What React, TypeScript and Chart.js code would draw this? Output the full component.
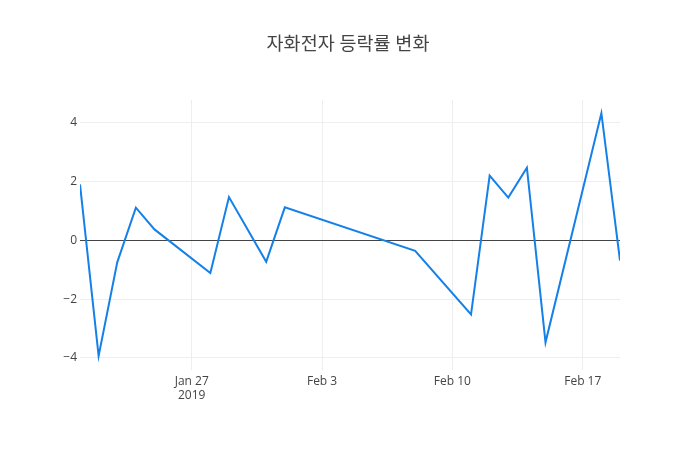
import React, { useEffect, useRef } from "react";
import { Chart, registerables } from "chart.js";

Chart.register(...registerables);

const TITLE = "자화전자 등락률 변화";
const dates = [
  "2019-01-21", "2019-01-22", "2019-01-23", "2019-01-24", "2019-01-25",
  "2019-01-28", "2019-01-29", "2019-01-31", "2019-02-01", "2019-02-08",
  "2019-02-11", "2019-02-12", "2019-02-13", "2019-02-14", "2019-02-15",
  "2019-02-18", "2019-02-19",
];
const changes = [
  1.9, -3.93, -0.75, 1.11, 0.37,
  -1.11, 1.47, -0.73, 1.12, -0.36,
  -2.52, 2.2, 1.45, 2.47, -3.47,
  4.32, -0.69,
];
const xTickDates = ["2019-01-27", "2019-02-03", "2019-02-10", "2019-02-17"];
const yTicks = [-4, -2, 0, 2, 4];
const MONTHS = ["Jan", "Feb", "Mar", "Apr", "May", "Jun", "Jul", "Aug", "Sep", "Oct", "Nov", "Dec"];

const DAY = 86400000;
const base = Date.UTC(2019, 0, 21);
const toDay = (s: string) => {
  const [y, m, d] = s.split("-").map(Number);
  return (Date.UTC(y, m - 1, d) - base) / DAY;
};

export default function App() {
  const ref = useRef<HTMLCanvasElement | null>(null);
  useEffect(() => {
    document.body.style.margin = "0";
    const font = "'Open Sans', 'Noto Sans CJK KR', sans-serif";
    const titlePlugin = {
      id: "ptitle",
      afterDraw(chart: any) {
        const c = chart.ctx;
        c.save();
        c.font = `18.5px ${font}`;
        c.fillStyle = "#444";
        c.textAlign = "center";
        c.textBaseline = "middle";
        c.fillText(TITLE, 348, 45);
        c.restore();
      },
    };
    const tickDays = xTickDates.map(toDay);
    const chart = new Chart(ref.current!, {
      type: "line",
      data: {
        datasets: [
          {
            data: dates.map((d, i) => ({ x: toDay(d), y: changes[i] })),
            borderColor: "#1580e8",
            borderWidth: 2,
            pointRadius: 0,
            tension: 0,
            fill: false,
          },
        ],
      },
      options: {
        animation: false,
        responsive: false,
        maintainAspectRatio: false,
        layout: { padding: { left: 0, right: 80, top: 100, bottom: 0 } },
        plugins: { legend: { display: false }, title: { display: false }, tooltip: { enabled: false } },
        scales: {
          x: {
            type: "linear",
            min: 0,
            max: 29,
            afterBuildTicks: (s: any) => {
              s.ticks = tickDays.map((v) => ({ value: v }));
            },
            afterFit: (s: any) => {
              s.height = 80;
            },
            border: { display: false },
            grid: { color: "#eee", drawTicks: false, lineWidth: 1 },
            ticks: {
              padding: 4,
              color: "#444",
              font: { family: font, size: 12 },
              maxRotation: 0,
              autoSkip: false,
              callback: (v: any, i: number) => {
                const dt = new Date(base + Number(v) * DAY);
                const lab = `${MONTHS[dt.getUTCMonth()]} ${dt.getUTCDate()}`;
                return i === 0 ? [lab, String(dt.getUTCFullYear())] : lab;
              },
            },
          },
          y: {
            type: "linear",
            min: -4.41,
            max: 4.77,
            afterBuildTicks: (s: any) => {
              s.ticks = yTicks.map((v) => ({ value: v }));
            },
            afterFit: (s: any) => {
              s.width = 80;
            },
            border: { display: false },
            grid: {
              drawTicks: false,
              color: (c: any) => (c.tick && c.tick.value === 0 ? "#444" : "#eee"),
              lineWidth: 1,
            },
            ticks: {
              padding: 3,
              color: "#444",
              font: { family: font, size: 12 },
              callback: (v: any) => (Number(v) < 0 ? "\u2212" + Math.abs(Number(v)) : String(v)),
            },
          },
        },
      },
      plugins: [titlePlugin],
    });
    return () => chart.destroy();
  }, []);
  return <canvas ref={ref} width={700} height={450} style={{ display: "block" }} />;
}
